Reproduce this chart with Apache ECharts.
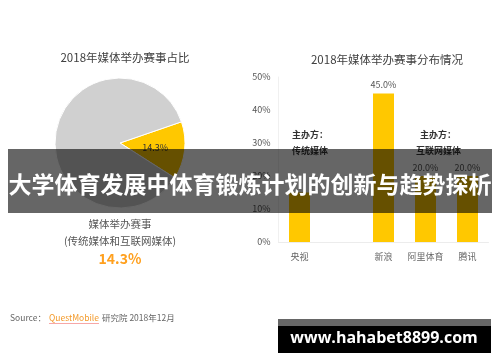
<!DOCTYPE html>
<html>
<head>
<meta charset="utf-8">
<script src="https://cdn.jsdelivr.net/npm/echarts@6/dist/echarts.min.js"></script>
<style>
html,body{margin:0;padding:0;background:#fff;}
#main{width:500px;height:362px;}
</style>
</head>
<body>
<div id="main"></div>
<script>
// ---- data ----
const pieNames = ['媒体举办赛事', '其他'];
const pieValues = [14.3, 85.7];
const pieLabels = ['14.3%', ''];
const barCategories = ['央视', '', '新浪', '阿里体育', '腾讯'];
const barValues = [15, null, 45, 20, 20];
const barLabels = ['', '', '45.0%', '20.0%', '20.0%'];
const yTicks = ['0%', '10%', '20%', '30%', '40%', '50%'];

const FONT = '"Noto Sans CJK SC", "Noto Sans", sans-serif';
const YELLOW = '#FFC800';
const GRAY = '#D0D0D0';

const chart = echarts.init(document.getElementById('main'), null, {renderer: 'canvas'});

const option = {
  backgroundColor: '#ffffff',
  animation: false,
  textStyle: {fontFamily: FONT},
  title: [
    {text: '2018年媒体举办赛事占比', left: 120, top: 47, textAlign: 'center',
     textStyle: {fontSize: 11.5, fontWeight: 'normal', color: '#404040', fontFamily: FONT}},
    {text: '2018年媒体举办赛事分布情况', left: 382, top: 49, textAlign: 'center',
     textStyle: {fontSize: 11.5, fontWeight: 'normal', color: '#404040', fontFamily: FONT}}
  ],
  grid: {left: 278.5, right: 11.5, top: 77, bottom: 120},
  xAxis: {
    type: 'category',
    data: barCategories,
    axisLine: {show: true, lineStyle: {color: '#ececec', width: 1}},
    axisTick: {show: false},
    axisLabel: {color: '#666', fontSize: 9, margin: 10, fontFamily: FONT, interval: 0}
  },
  yAxis: {
    type: 'value',
    min: 0, max: 50, interval: 10,
    axisLine: {show: true, lineStyle: {color: '#f0f0f0', width: 1}},
    axisTick: {show: false},
    splitLine: {show: false},
    axisLabel: {
      color: '#555', fontSize: 9, margin: 8, fontFamily: FONT,
      formatter: function (v) { return yTicks[Math.round(v / 10)]; }
    }
  },
  series: [
    {
      type: 'pie',
      center: [120, 143],
      radius: [0, 65],
      startAngle: 19,
      clockwise: true,
      silent: true,
      itemStyle: {borderColor: '#ffffff', borderWidth: 1},
      label: {
        show: true, position: 'inside', color: '#333', fontSize: 9, fontFamily: FONT,
        formatter: function (p) { return pieLabels[p.dataIndex]; }
      },
      labelLine: {show: false},
      data: pieNames.map(function (n, i) {
        return {name: n, value: pieValues[i], itemStyle: {color: i === 0 ? YELLOW : GRAY}};
      })
    },
    {
      type: 'bar',
      barWidth: 21,
      itemStyle: {color: YELLOW},
      label: {
        show: true, position: 'top', distance: 4, color: '#555', fontSize: 9, fontFamily: FONT,
        formatter: function (p) { return barLabels[p.dataIndex]; }
      },
      data: barValues
    }
  ],
  graphic: [
    // annotations in bar chart
    {type: 'text', left: 292, top: 130, style: {text: '主办方：', fill: '#333', font: 'bold 9px ' + FONT}},
    {type: 'text', left: 292, top: 146, style: {text: '传统媒体', fill: '#333', font: 'bold 9px ' + FONT}},
    {type: 'text', left: 420, top: 130, style: {text: '主办方：', fill: '#333', font: 'bold 9px ' + FONT}},
    {type: 'text', left: 416, top: 146, style: {text: '互联网媒体', fill: '#333', font: 'bold 9px ' + FONT}},
    // text below pie
    {type: 'text', x: 120, y: 224, style: {text: '媒体举办赛事', fill: '#555', font: '10.5px ' + FONT, textAlign: 'center', textVerticalAlign: 'middle'}},
    {type: 'text', x: 120, y: 241, style: {text: '(传统媒体和互联网媒体)', fill: '#555', font: '10.5px ' + FONT, textAlign: 'center', textVerticalAlign: 'middle'}},
    {type: 'text', x: 120, y: 259, style: {text: '14.3%', fill: '#FFA01E', font: 'bold 14px ' + FONT, textAlign: 'center', textVerticalAlign: 'middle'}},
    // source
    {type: 'text', x: 10, y: 318, style: {text: 'Source：', fill: '#666', font: '8.5px ' + FONT, textVerticalAlign: 'middle'}},
    {type: 'text', x: 49, y: 318, style: {text: 'QuestMobile', fill: '#F39A2B', font: '8.5px ' + FONT, textVerticalAlign: 'middle'}},
    {type: 'line', shape: {x1: 49, y1: 323.5, x2: 99, y2: 323.5}, style: {stroke: '#F7A7A7', lineWidth: 1}},
    {type: 'text', x: 102, y: 318, style: {text: '研究院 2018年12月', fill: '#666', font: '8.5px ' + FONT, textVerticalAlign: 'middle'}},
    // overlay banner
    {type: 'rect', shape: {x: 8, y: 149, width: 484, height: 64}, style: {fill: 'rgba(0,0,0,0.6)'}, z: 100},
    {type: 'text', x: 250, y: 184, z: 101, style: {
      text: '大学体育发展中体育锻炼计划的创新与趋势探析', fill: '#ffffff',
      font: 'bold 23px ' + FONT, textAlign: 'center', textVerticalAlign: 'middle'}},
    // watermark
    {type: 'rect', shape: {x: 278, y: 319, width: 213, height: 7}, style: {fill: '#666666'}, z: 100},
    {type: 'rect', shape: {x: 278, y: 326, width: 213, height: 27}, style: {fill: '#000000'}, z: 100},
    {type: 'text', x: 384, y: 338, z: 101, style: {
      text: 'www.hahabet8899.com', fill: '#ffffff',
      font: 'bold 16px "Open Sans", "DejaVu Sans", sans-serif', textAlign: 'center', textVerticalAlign: 'middle'}}
  ]
};
chart.setOption(option);
</script>
</body>
</html>
